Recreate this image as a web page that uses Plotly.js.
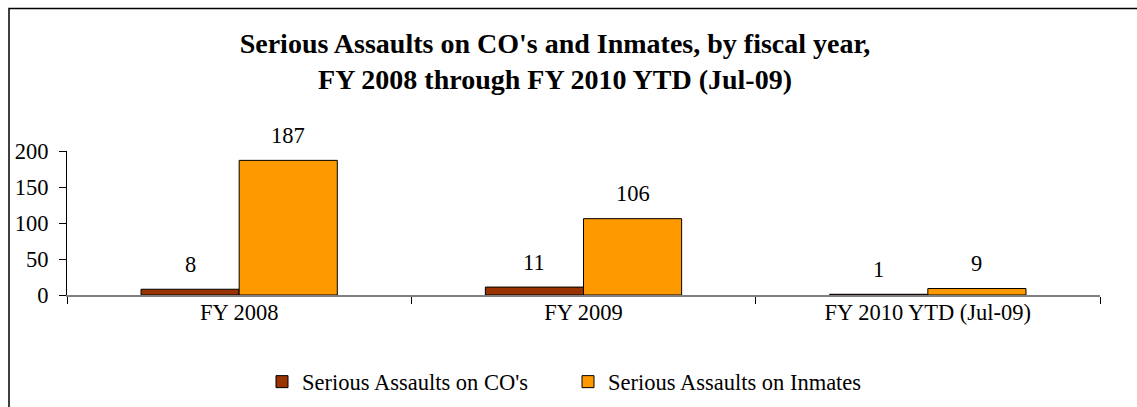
<!DOCTYPE html>
<html>
<head>
<meta charset="utf-8">
<script src="https://cdn.plot.ly/plotly-3.0.1.min.js"></script>
<style>html,body{margin:0;padding:0;background:#fff;}#chart{width:1137px;height:407px;}</style>
</head>
<body>
<div id="chart"></div>
<script>
var categories = ["FY 2008", "FY 2009", "FY 2010 YTD (Jul-09)"];
var coAssaults = [8, 11, 1];
var inmateAssaults = [187, 106, 9];
var seriesNames = ["Serious Assaults on CO's", "Serious Assaults on Inmates"];
var yTicks = [0, 50, 100, 150, 200];

var FONT = "Liberation Serif";
var FS = 22.5;
var W = 1137, H = 407, L = 67, R = 37, T = 151, B = 112;
var pw = W - L - R, ph = H - T - B;
var BARGAP = 0.43;
var halfBar = (pw / categories.length) * (1 - BARGAP) / 4;

var traces = [
  {type: "bar", name: seriesNames[0], x: categories, y: coAssaults,
   marker: {color: "#993300", line: {color: "#000000", width: 1}}, hoverinfo: "none"},
  {type: "bar", name: seriesNames[1], x: categories, y: inmateAssaults,
   marker: {color: "#FF9900", line: {color: "#000000", width: 1}}, hoverinfo: "none"}
];

var annotations = [];
[coAssaults, inmateAssaults].forEach(function (arr, si) {
  arr.forEach(function (v, i) {
    annotations.push({x: categories[i], y: v, xref: "x", yref: "y", text: String(v),
      showarrow: false, xshift: (si === 0 ? -1 : 1) * halfBar, yshift: 25, yanchor: "middle",
      font: {family: FONT, size: FS, color: "#000"}});
  });
});

var layout = {
  width: W, height: H,
  margin: {l: L, r: R, t: T, b: B},
  paper_bgcolor: "#fff", plot_bgcolor: "#fff",
  font: {family: FONT, size: FS, color: "#000"},
  title: {text: "<b>Serious Assaults on CO's and Inmates, by fiscal year,<br>FY 2008 through FY 2010 YTD (Jul-09)</b>",
    font: {family: FONT, size: 28, color: "#000"}, x: (555 - L) / pw, xref: "paper", xanchor: "center",
    y: 1 - 53 / H, yref: "container", yanchor: "top"},
  barmode: "group", bargap: BARGAP, bargroupgap: 0,
  showlegend: true,
  legend: {orientation: "h", x: (262 - L) / pw, xanchor: "left", xref: "paper",
    y: 1 - 382 / H, yref: "container", yanchor: "middle",
    entrywidth: 261, entrywidthmode: "pixels",
    font: {family: FONT, size: FS, color: "#000"}, traceorder: "normal", itemwidth: 30},
  xaxis: {type: "category", showline: true, linecolor: "#808080", linewidth: 1.5,
    ticks: "outside", tickson: "boundaries", ticklen: 7, tickcolor: "#000", tickwidth: 1,
    ticklabelstandoff: -4,
    showgrid: false, zeroline: false, automargin: false, tickfont: {family: FONT, size: FS, color: "#000"}},
  yaxis: {range: [0, 200], tickvals: yTicks, ticks: "outside", ticklen: 7, tickcolor: "#000",
    showline: true, linecolor: "#000", linewidth: 1, showgrid: false, zeroline: false, automargin: false,
    ticklabelstandoff: 6, tickfont: {family: FONT, size: FS, color: "#000"}},
  annotations: annotations,
  shapes: [{type: "rect", xref: "paper", yref: "paper", x0: (9 - L) / pw, x1: 1.5,
    y0: -1.5, y1: (ph + T - 8.5) / ph, line: {color: "#000", width: 1.5}, fillcolor: "rgba(0,0,0,0)", layer: "below"}]
};

Plotly.newPlot("chart", traces, layout, {displayModeBar: false, staticPlot: true});
</script>
</body>
</html>
